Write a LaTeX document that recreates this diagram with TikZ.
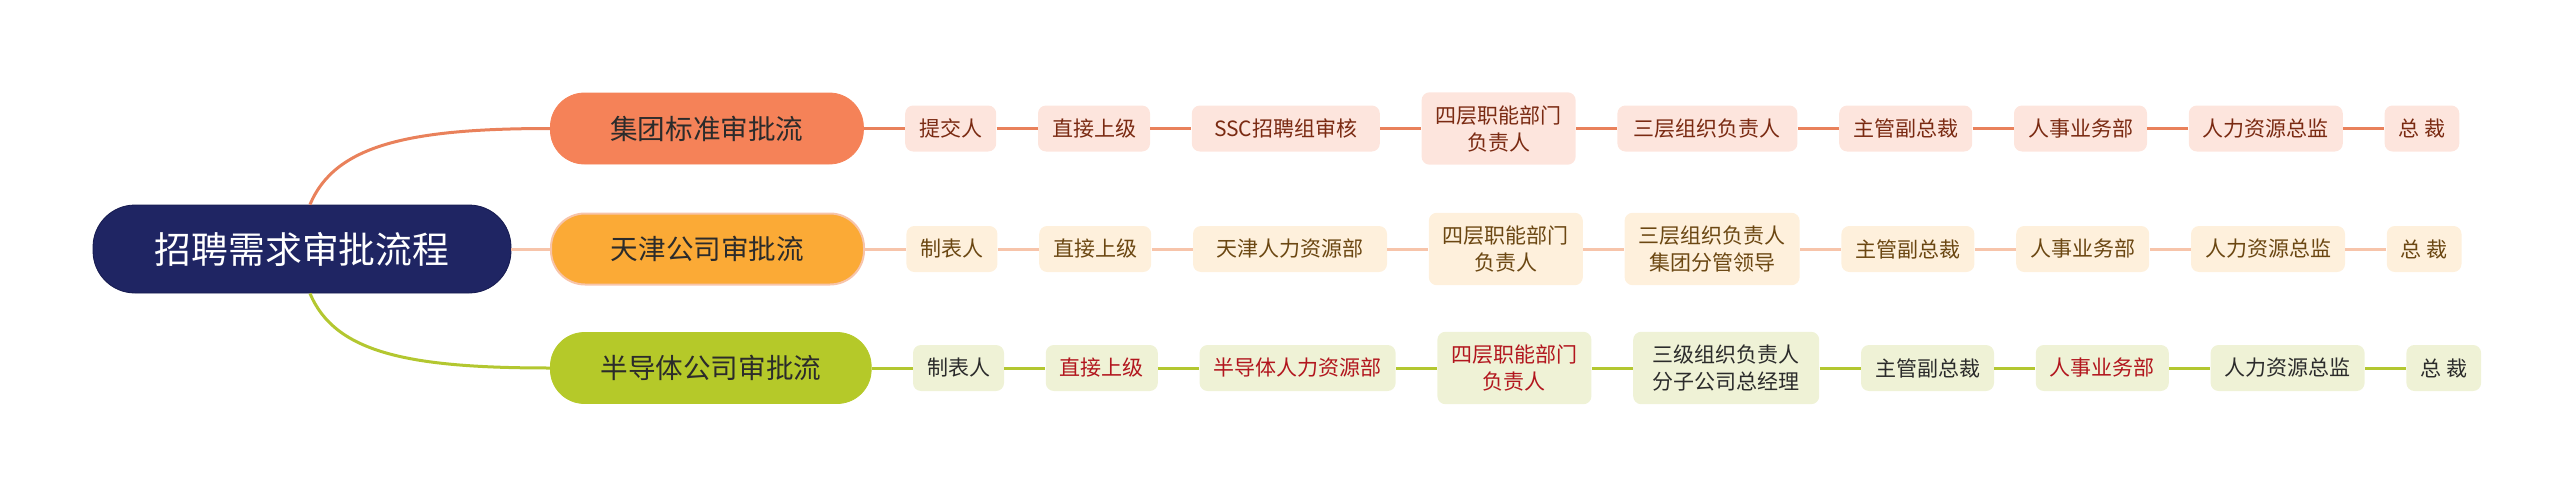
\documentclass[tikz,border=0pt]{standalone}
\usepackage{fontspec}
\newfontfamily\cjk{Noto Sans CJK SC}
\usepackage{xcolor}
\usepackage{tikz}
\usetikzlibrary{positioning}

\definecolor{navy}{HTML}{1F2563}
\definecolor{navyline}{HTML}{151A4F}
\definecolor{coral}{HTML}{F58258}
\definecolor{amber}{HTML}{FBAA36}
\definecolor{lime}{HTML}{B5C929}
\definecolor{coralline}{HTML}{E9815B}
\definecolor{salmonline}{HTML}{F7C4AA}
\definecolor{limeline}{HTML}{B3C730}
\definecolor{pinkbg}{HTML}{FDE5DD}
\definecolor{creambg}{HTML}{FEF0DC}
\definecolor{greenbg}{HTML}{EFF2D6}
\definecolor{rusttext}{HTML}{7A2A12}
\definecolor{browntext}{HTML}{6B4712}
\definecolor{darktext}{HTML}{2B2B2B}
\definecolor{redtext}{HTML}{B2161E}

\begin{document}
\begin{tikzpicture}[
  x=0.5pt, y=-0.5pt,
  node distance=20.5pt,
  root/.style={draw=navyline, fill=navy, text=white, rounded corners=21pt, minimum width=209pt, minimum height=44pt, font=\cjk\fontsize{18.4}{22}\selectfont},
  grp/.style={rounded corners=17pt, minimum width=156.5pt, minimum height=35.5pt, inner xsep=25pt, text=darktext, anchor=west, font=\cjk\fontsize{13.8}{17}\selectfont},
  leaf/.style={rounded corners=4pt, minimum height=23pt, inner xsep=7pt, inner ysep=6.5pt, align=center, font=\cjk\fontsize{10.5}{13.5}\selectfont},
  leafa/.style={leaf, fill=pinkbg, text=rusttext},
  leafb/.style={leaf, fill=creambg, text=browntext},
  leafc/.style={leaf, fill=greenbg, text=darktext},
  hot/.style={text=redtext},
  lna/.style={draw=coralline, line width=1.5pt},
  lnb/.style={draw=salmonline, line width=1.5pt},
  lnc/.style={draw=limeline, line width=1.5pt}]
\useasboundingbox (0,0) rectangle (2560,498);
\node[root] (root) at (302,249) {招聘需求审批流程};
\node[grp, fill=coral, draw=coral] (g1) at (550,128.5) {集团标准审批流};
\node[grp, fill=amber, draw=salmonline, line width=1pt] (g2) at (550,249) {天津公司审批流};
\node[grp, fill=lime, draw=lime] (g3) at (550,368) {半导体公司审批流};
% row a
\node[leafa, right=of g1] (a1) {提交人};
\node[leafa, right=of a1] (a2) {直接上级};
\node[leafa, minimum width=94pt, right=of a2] (a3) {SSC招聘组审核};
\node[leafa, right=of a3] (a4) {四层职能部门\\负责人};
\node[leafa, minimum width=90pt, right=of a4] (a5) {三层组织负责人};
\node[leafa, right=of a5] (a6) {主管副总裁};
\node[leafa, right=of a6] (a7) {人事业务部};
\node[leafa, right=of a7] (a8) {人力资源总监};
\node[leafa, right=of a8] (a9) {总 裁};
% row b
\node[leafb, right=of g2] (b1) {制表人};
\node[leafb, right=of b1] (b2) {直接上级};
\node[leafb, minimum width=97pt, right=of b2] (b3) {天津人力资源部};
\node[leafb, right=of b3] (b4) {四层职能部门\\负责人};
\node[leafb, right=of b4] (b5) {三层组织负责人\\集团分管领导};
\node[leafb, right=of b5] (b6) {主管副总裁};
\node[leafb, right=of b6] (b7) {人事业务部};
\node[leafb, right=of b7] (b8) {人力资源总监};
\node[leafb, right=of b8] (b9) {总 裁};
% row c
\node[leafc, right=of g3] (c1) {制表人};
\node[leafc, hot, right=of c1] (c2) {直接上级};
\node[leafc, hot, right=of c2] (c3) {半导体人力资源部};
\node[leafc, hot, right=of c3] (c4) {四层职能部门\\负责人};
\node[leafc, minimum width=93pt, right=of c4] (c5) {三级组织负责人\\分子公司总经理};
\node[leafc, right=of c5] (c6) {主管副总裁};
\node[leafc, hot, right=of c6] (c7) {人事业务部};
\node[leafc, right=of c7] (c8) {人力资源总监};
\node[leafc, right=of c8] (c9) {总 裁};
% links
\draw[lna] ([xshift=4pt]root.north) .. controls +(25,-60) and +(-140,0) .. (g1.west);
\draw[lnb] (root) -- (g2);
\draw[lnc] ([xshift=4pt]root.south) .. controls +(25,60) and +(-140,0) .. (g3.west);
\draw[lna] (g1) -- (a1) -- (a2) -- (a3) -- (a4) -- (a5) -- (a6) -- (a7) -- (a8) -- (a9);
\draw[lnb] (g2) -- (b1) -- (b2) -- (b3) -- (b4) -- (b5) -- (b6) -- (b7) -- (b8) -- (b9);
\draw[lnc] (g3) -- (c1) -- (c2) -- (c3) -- (c4) -- (c5) -- (c6) -- (c7) -- (c8) -- (c9);
\end{tikzpicture}
\end{document}
